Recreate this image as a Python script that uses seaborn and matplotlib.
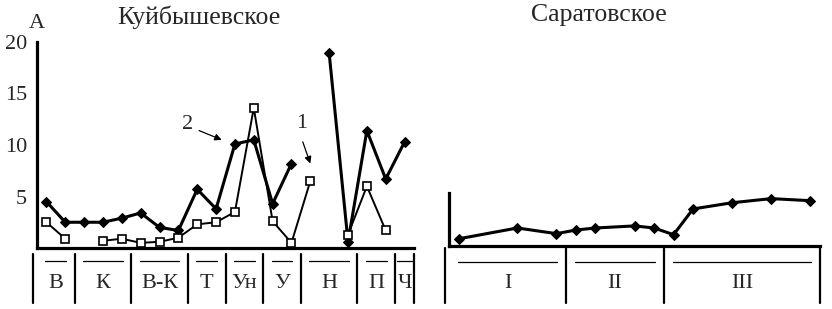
import numpy as np
import pandas as pd
import matplotlib
matplotlib.use("Agg")
import matplotlib.pyplot as plt
import matplotlib.transforms as mtransforms
import seaborn as sns

# данные
left_groups = ["В", "К", "В-К", "Т", "Ун", "У", "Н", "П", "Ч"]
left_sizes = [2, 3, 3, 2, 2, 2, 3, 2, 1]
series_2 = [4.5, 2.5, 2.5, 2.5, 2.9, 3.4, 2.0, 1.7, 5.7, 3.8,
            10.1, 10.5, 4.3, 8.2, np.nan, 18.9, 0.6, 11.4, 6.7, 10.3]
series_1 = [2.5, 0.9, np.nan, 0.7, 0.9, 0.5, 0.6, 1.0, 2.3, 2.5,
            3.5, 13.6, 2.6, 0.5, 6.5, np.nan, 1.3, 6.0, 1.7, np.nan]
left_yticks = [5, 10, 15, 20]

right_groups = ["I", "II", "III"]
right_sizes = [6, 5, 8]
right_vals = [0.7, np.nan, np.nan, 1.75, np.nan, 1.2, 1.55, 1.75, np.nan, 1.95,
              1.75, 1.1, 3.6, np.nan, 4.2, np.nan, 4.6, np.nan, 4.4]

sns.set_style("white")
plt.rcParams["font.family"] = ["Liberation Serif", "DejaVu Serif"]

W, H = 832, 309
fig = plt.figure(figsize=(W / 100, H / 100), dpi=100)
ax1 = fig.add_axes([37 / W, 61 / H, 377 / W, 206 / H])
ax2 = fig.add_axes([449 / W, 63 / H, 371 / W, 206 / H])


def to_frame(vals, gaps=True):
    df = pd.DataFrame({"pos": np.arange(len(vals)), "val": vals})
    df["seg"] = df["val"].isna().cumsum() if gaps else 0
    return df.dropna()


def style_axis(ax, n):
    ax.set_xlim(-0.5, n - 0.5)
    ax.set_ylim(0, 20)
    for s in ["top", "right"]:
        ax.spines[s].set_visible(False)
    for s in ["left", "bottom"]:
        ax.spines[s].set_linewidth(2.3)
        ax.spines[s].set_color("black")
    ax.set_xticks(np.arange(0.5, n, 1))
    ax.set_xticklabels([])
    ax.tick_params(axis="x", direction="out", length=4, width=1.5, color="black")
    ax.tick_params(axis="y", direction="in", length=5, width=2, color="black",
                   labelsize=16, pad=7)
    ax.set_xlabel("")
    ax.set_ylabel("")


def group_labels(ax, groups, sizes, y_top, y_bot, y_line, y_text):
    tr = mtransforms.blended_transform_factory(ax.transData, fig.transFigure)
    edges = np.concatenate([[0], np.cumsum(sizes)]) - 0.5
    for k, e in enumerate(edges):
        xe = e - 0.2 if k == 0 else e
        ax.plot([xe, xe], [y_top, y_bot], color="black", lw=1.6,
                transform=tr, clip_on=False)
    for g, n, a, b in zip(groups, sizes, edges[:-1], edges[1:]):
        m = 0.45 if n > 1 else 0.12
        ax.plot([a + m, b - m], [y_line, y_line], color="black", lw=0.9,
                transform=tr, clip_on=False)
        ax.text((a + b) / 2, y_text, g, transform=tr, ha="center", va="center",
                fontsize=16)


# левая панель — Куйбышевское
d2 = to_frame(series_2)
d1 = to_frame(series_1)
sns.lineplot(data=d2, x="pos", y="val", units="seg", estimator=None,
             color="black", lw=2.2, marker="D", markersize=5,
             markerfacecolor="black", markeredgecolor="black", ax=ax1,
             legend=False, zorder=3)
sns.lineplot(data=d1, x="pos", y="val", units="seg", estimator=None,
             color="black", lw=1.4, marker="s", markersize=5.5,
             markerfacecolor="white", markeredgecolor="black",
             markeredgewidth=1.2, ax=ax1, legend=False, zorder=4)
style_axis(ax1, len(series_2))
ax1.set_yticks(left_yticks)
group_labels(ax1, left_groups, left_sizes, 1 - 254 / H, 1 - 303 / H,
             1 - 261 / H, 1 - 283 / H)

ax1.text(7.5, 12.0, "2", fontsize=16, ha="center", va="center")
ax1.annotate("", xy=(9.3, 10.5), xytext=(8.1, 11.4),
             arrowprops=dict(arrowstyle="-|>", color="black", lw=0.9,
                             mutation_scale=10, shrinkA=0, shrinkB=0))
ax1.text(13.55, 12.1, "1", fontsize=16, ha="center", va="center")
ax1.annotate("", xy=(14.0, 8.2), xytext=(13.6, 10.3),
             arrowprops=dict(arrowstyle="-|>", color="black", lw=0.9,
                             mutation_scale=10, shrinkA=0, shrinkB=0))

# правая панель — Саратовское
dr = to_frame(right_vals, gaps=False)
sns.lineplot(data=dr, x="pos", y="val", estimator=None, color="black",
             lw=2.2, marker="D", markersize=5, markerfacecolor="black",
             markeredgecolor="black", ax=ax2, legend=False)
style_axis(ax2, len(right_vals))
ax2.spines["left"].set_bounds(0, 5.15)
ax2.set_yticks([5.15])
ax2.set_yticklabels([])
group_labels(ax2, right_groups, right_sizes, 1 - 248 / H, 1 - 303 / H,
             1 - 262 / H, 1 - 283 / H)

fig.text(199 / W, 1 - 17 / H, "Куйбышевское", ha="center", va="center", fontsize=18.5)
fig.text(599 / W, 1 - 15 / H, "Саратовское", ha="center", va="center", fontsize=18.5)
fig.text(37 / W, 1 - 24 / H, "А", ha="center", va="center", fontsize=16)

fig.savefig("out.png", dpi=100)
